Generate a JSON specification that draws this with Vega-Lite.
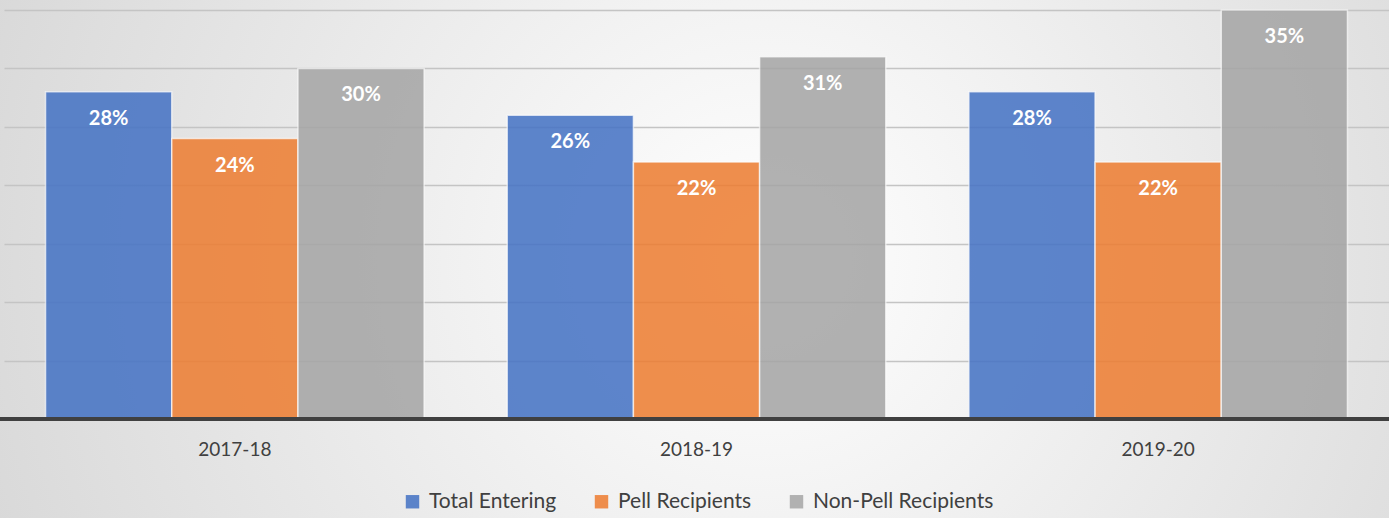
{
  "$schema": "https://vega.github.io/schema/vega-lite/v6.json",
  "width": 1389,
  "height": 518,
  "autosize": "none",
  "padding": 0,
  "background": "#e4e4e4",
  "config": {
    "view": {
      "stroke": null,
      "fill": {
        "gradient": "radial",
        "x1": 0.55, "y1": 0.5, "x2": 0.55, "y2": 0.5,
        "r1": 0, "r2": 0.8,
        "stops": [
          {"offset": 0, "color": "#ffffff"},
          {"offset": 1, "color": "#cbcbcb"}
        ]
      }
    },
    "font": "Lato"
  },
  "data": {
    "values": [
      {"year": "2017-18", "group": "Total Entering", "value": 0.28},
      {"year": "2017-18", "group": "Pell Recipients", "value": 0.24},
      {"year": "2017-18", "group": "Non-Pell Recipients", "value": 0.30},
      {"year": "2018-19", "group": "Total Entering", "value": 0.26},
      {"year": "2018-19", "group": "Pell Recipients", "value": 0.22},
      {"year": "2018-19", "group": "Non-Pell Recipients", "value": 0.31},
      {"year": "2019-20", "group": "Total Entering", "value": 0.28},
      {"year": "2019-20", "group": "Pell Recipients", "value": 0.22},
      {"year": "2019-20", "group": "Non-Pell Recipients", "value": 0.35}
    ]
  },
  "encoding": {
    "x": {
      "field": "year", "type": "nominal", "title": null,
      "scale": {"paddingInner": 0.18, "paddingOuter": 0.09, "range": [4, 1389]},
      "axis": {
        "orient": "bottom", "offset": -69, "domain": false, "ticks": false, "tickSize": 0,
        "labelPadding": 0, "labelBaseline": "middle", "labelAngle": 0,
        "labelFontSize": 19, "labelColor": "#404040", "labelFont": "Lato", "grid": false
      }
    },
    "xOffset": {
      "field": "group", "type": "nominal",
      "sort": ["Total Entering", "Pell Recipients", "Non-Pell Recipients"],
      "scale": {"paddingInner": 0, "paddingOuter": 0}
    }
  },
  "layer": [
    {
      "mark": {"type": "bar", "opacity": 0.86, "stroke": "#ffffff", "strokeOpacity": 0.7, "strokeWidth": 1.5},
      "encoding": {
        "y": {
          "field": "value", "type": "quantitative", "title": null,
          "scale": {"domain": [-0.0847, 0.35856], "nice": false, "zero": false},
          "axis": {
            "values": [0.05, 0.10, 0.15, 0.20, 0.25, 0.30, 0.35], "labels": false, "ticks": false, "domain": false,
            "grid": true, "gridColor": "#c4c4c4", "gridWidth": 1.5
          }
        },
        "y2": {"datum": 0},
        "color": {
          "field": "group", "type": "nominal",
          "sort": ["Total Entering", "Pell Recipients", "Non-Pell Recipients"],
          "scale": {
            "domain": ["Total Entering", "Pell Recipients", "Non-Pell Recipients"],
            "range": ["#4472C4", "#ED7D31", "#A5A5A5"]
          },
          "legend": {
            "title": null, "orient": "none", "legendX": 402, "legendY": 491,
            "direction": "horizontal", "symbolType": "square", "symbolSize": 180,
            "symbolStrokeWidth": 0, "symbolOpacity": 0.86,
            "labelFontSize": 21, "labelColor": "#404040", "labelFont": "Lato",
            "labelOffset": 6, "columnPadding": 34, "labelLimit": 400
          }
        }
      }
    },
    {
      "mark": {"type": "rule", "color": "#404040", "strokeWidth": 3.5},
      "encoding": {"y": {"datum": 0, "type": "quantitative"}, "xOffset": null, "x": null}
    },
    {
      "mark": {"type": "text", "color": "#ffffff", "fontWeight": "bold", "fontSize": 20, "baseline": "middle", "dy": 27, "font": "Lato"},
      "encoding": {
        "y": {"field": "value", "type": "quantitative"},
        "text": {"field": "value", "type": "quantitative", "format": ".0%"},
        "detail": {"field": "group"}
      }
    }
  ]
}
